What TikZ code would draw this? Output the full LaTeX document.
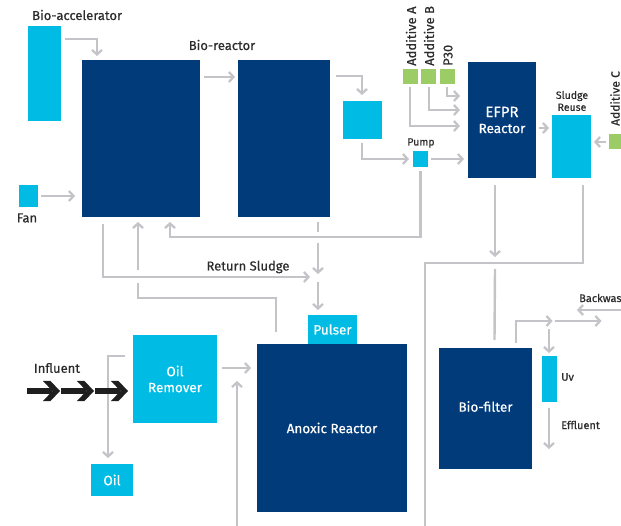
\documentclass[tikz,border=0pt]{standalone}
\usepackage{fontspec}
\setmainfont{Fira Sans}[FakeBold=0.5]
\usetikzlibrary{arrows.meta,calc}
\definecolor{dblue}{HTML}{023B7A}
\definecolor{cyanb}{HTML}{00BCE4}
\definecolor{greenb}{HTML}{9CCC65}
\definecolor{lgray}{HTML}{C4C4C8}
\definecolor{txt}{HTML}{2B2B2B}
\begin{document}
\begin{tikzpicture}[x=1pt,y=-1pt,
  box/.style={inner sep=0pt,outer sep=0pt,anchor=north west},
  dbox/.style={box,fill=dblue},
  cbox/.style={box,fill=cyanb},
  gbox/.style={box,fill=greenb,minimum width=15pt,minimum height=15pt},
  lbl/.style={text=txt,font=\fontsize{13}{14}\selectfont,inner sep=0pt},
  slbl/.style={text=txt,font=\fontsize{10.5}{12}\selectfont,inner sep=0pt,align=center},
  rlbl/.style={text=txt,font=\fontsize{11}{12}\selectfont,inner sep=0pt,anchor=west},
  wlbl/.style={text=white,font=\fontsize{13.5}{16}\selectfont,inner sep=0pt,align=center},
  arr/.style={draw=lgray,line width=2.4pt,-{Straight Barb[length=4.5pt,width=10pt,line width=2.3pt]}},
  ln/.style={draw=lgray,line width=2.4pt},
  chevr/.pic={\fill[black!88] (0,-3.2) rectangle (25,3.2);
              \fill[black!88] (16,-10) -- (23.5,-10) -- (33,0) -- (23.5,10) -- (16,10) -- (25.5,0) -- cycle;}
]
\useasboundingbox (0,0) rectangle (621,526);
\clip (0,0) rectangle (621,526);
% boxes
\node[cbox,minimum width=33pt,minimum height=95pt] (bacc) at (28,26) {};
\node[dbox,minimum width=118pt,minimum height=157pt] (b1) at (82,60) {};
\node[dbox,minimum width=92pt,minimum height=157pt] (b2) at (238,60) {};
\node[cbox,minimum width=19pt,minimum height=22pt] (fan) at (19,185) {};
\node[cbox,minimum width=39pt,minimum height=38pt] (sbox) at (343,101) {};
\node[cbox,minimum width=15pt,minimum height=16pt] (pump) at (413,151) {};
\node[dbox,minimum width=68pt,minimum height=116pt] (efpr) at (468,62) {};
\node[gbox] (adda) at (403,69) {};
\node[gbox] (addb) at (421,69) {};
\node[gbox] (p30) at (440,69) {};
\node[cbox,minimum width=39pt,minimum height=63pt] (sreuse) at (552,115) {};
\node[gbox] (addc) at (609,134) {};
\node[cbox,minimum width=49pt,minimum height=29pt] (pulser) at (308,315) {};
\node[dbox,minimum width=150pt,minimum height=168pt] (anoxic) at (257,344) {};
\node[cbox,minimum width=84pt,minimum height=88pt] (oilrem) at (133,335) {};
\node[cbox,minimum width=42pt,minimum height=32pt] (oil) at (91,464) {};
\node[dbox,minimum width=93pt,minimum height=121pt] (bfilter) at (439,348) {};
\node[cbox,minimum width=15pt,minimum height=46pt] (uv) at (542,356) {};
% texts
\node[lbl,anchor=west] (tbacc) at (32,15) {Bio-accelerator};
\node[lbl] (tbr) at (222,45) {Bio-reactor};
\node[lbl] (tfan) at (27,218) {Fan};
\node[slbl] (tpump) at (421,143) {Pump};
\node[lbl,rotate=90,anchor=west] (tadda) at (411,66) {Additive A};
\node[lbl,rotate=90,anchor=west] (taddb) at (429,66) {Additive B};
\node[lbl,rotate=90,anchor=west] (tp30) at (448,66) {P30};
\node[slbl,rotate=90,anchor=west] (taddc) at (615,126) {\fontsize{12}{13}\selectfont Additive C};
\node[slbl] (tsr) at (572,101) {Sludge\\Reuse};
\node[wlbl] at (efpr.center) {\fontsize{15}{17}\selectfont EFPR\\Reactor};
\node[lbl] (trs) at (248,267) {Return Sludge};
\node[wlbl] at (pulser.center) {Pulser};
\node[lbl] (tinf) at (57,368) {Influent};
\node[wlbl] at (oilrem.center) {Oil\\Remover};
\node[wlbl] at (oil.center) {Oil};
\node[wlbl] at (anoxic.center) {Anoxic Reactor};
\node[wlbl] at ($(bfilter.center)+(0,-2)$) {Bio-filter};
\node[rlbl] (tbw) at (579,298) {Backwash};
\node[rlbl] (tuv) at (561,377) {Uv};
\node[rlbl] (teff) at (561,425) {Effluent};
% connectors
\draw[arr] ($(bacc.north east)+(4,13)$) -| ($(b1.north west)+(15,-4)$);
\draw[arr] ($(fan.east)+(3,0)$) -- ($(b1.west)+(-7,57.5)$);
\draw[arr] ($(b1.north east)+(4,17)$) -- ($(b2.north west)+(-3,17)$);
\draw[arr] ($(b2.north east)+(6,16)$) -| ($(sbox.north)+(-0.5,-6)$);
\draw[arr] ($(sbox.south)+(-0.5,4)$) |- ($(pump.west)+(-4,0)$);
\draw[arr] ($(pump.east)+(3,0)$) -- ($(efpr.west)+(-4,39)$);
\draw[arr] ($(adda.south)+(-0.5,3)$) |- ($(efpr.north west)+(-8,64)$);
\draw[arr] ($(addb.south)+(0.5,3)$) |- ($(efpr.north west)+(-8,48)$);
\draw[arr] ($(p30.south)+(-0.5,3)$) |- ($(efpr.north west)+(-8,34)$);
\draw[arr] ($(efpr.east)+(3,8)$) -- ($(sreuse.west)+(-3,-18.5)$);
\draw[arr] ($(addc.west)+(-3,0.5)$) -- ($(sreuse.east)+(3,-4.5)$);
\draw[arr] ($(pump.south)+(0,4)$) |- ($(b1.south west)+(88,20)$) -- ($(b1.south west)+(88,5)$);
\draw[arr] ($(b1.south west)+(21,7)$) |- ($(b2.south west)+(72,60)$);
\draw[ln] ($(anoxic.north west)+(19,-12)$) |- ($(b1.south west)+(56,81)$) -- ($(b1.south west)+(56,66)$);
\draw[arr] ($(b1.south west)+(56,53)$) -- ($(b1.south west)+(56,5)$);
\draw[ln] ($(b2.south west)+(80,5)$) -- ($(b2.south west)+(80,15)$);
\draw[arr] ($(b2.south west)+(80,26)$) -- ($(b2.south west)+(80,57)$);
\draw[arr] ($(b2.south west)+(80,65)$) -- ($(pulser.north west)+(10,-5)$);
\draw[arr] ($(oilrem.north east)+(5,33)$) -- ($(anoxic.north west)+(-6,24)$);
\draw[arr] (237,526) -- ($(anoxic.north west)+(-20,37)$);
\draw[arr] ($(oilrem.north west)+(-8,21)$) -| ($(oil.north)+(-4,-6)$);
\draw[arr] ($(efpr.south)+(-7,7)$) -- ($(efpr.south)+(-7,79)$);
\draw[ln] ($(efpr.south)+(-7,91)$) -- ($(bfilter.north)+(9,-8)$);
\draw[ln] ($(sreuse.south)+(11.5,7)$) |- ($(bfilter.north west)+(-14,-85)$) -- (425,526);
\draw[arr] ($(bfilter.north west)+(77,-5)$) |- ($(uv.north)+(3,-35)$);
\draw[arr] ($(uv.north)+(5,-35)$) -- ($(uv.north)+(52,-35)$);
\draw[arr] ($(uv.north)+(-0.5,-27)$) -- ($(uv.north)+(-0.5,-3)$);
\draw[arr] (624,310) -- ($(tbw.west)+(-2,12)$);
\draw[arr] ($(uv.south)+(-0.5,6)$) -- ($(uv.south)+(-0.5,47)$);
% influent chevrons
\coordinate (c0) at ($(oilrem.west)+(-106,12)$);
\pic at (c0) {chevr};
\pic at ($(c0)+(34,0)$) {chevr};
\pic at ($(c0)+(68,0)$) {chevr};
\end{tikzpicture}
\end{document}
